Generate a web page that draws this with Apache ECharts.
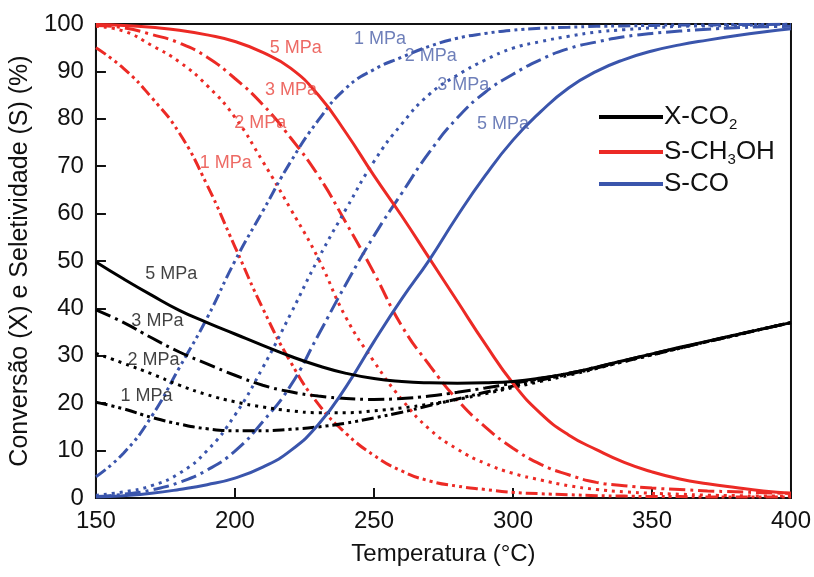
<!DOCTYPE html>
<html>
<head>
<meta charset="utf-8">
<script src="https://cdn.jsdelivr.net/npm/echarts@6/dist/echarts.min.js"></script>
<style>
html,body{margin:0;padding:0;background:#fff;}
#chart{width:814px;height:577px;}
</style>
</head>
<body>
<div id="chart"></div>
<script>
// ---- data ----
const temps = [150,160,170,180,190,200,210,220,230,240,250,260,270,280,290,300,310,320,330,340,350,360,370,380,390,400];

// X-CO2 conversion (%)
const xco2_5 = [49.8,46.2,42.8,39.6,37.0,34.6,32.2,29.9,27.9,26.3,25.2,24.6,24.3,24.2,24.3,24.6,25.3,26.3,27.6,29.0,30.4,31.8,33.1,34.4,35.7,37.0];
const xco2_3 = [39.7,37.0,33.8,30.8,28.3,25.9,23.8,22.4,21.5,21.0,20.8,21.0,21.5,22.3,23.2,24.2,25.2,26.3,27.6,29.0,30.4,31.7,33.0,34.4,35.7,37.0];
const xco2_2 = [30.5,28.4,26.2,23.8,21.8,20.3,19.2,18.4,18.0,18.0,18.4,19.0,19.8,20.8,22.0,23.3,24.6,25.9,27.3,28.8,30.2,31.6,33.0,34.3,35.7,37.0];
const xco2_1 = [20.2,18.8,17.0,15.6,14.6,14.2,14.2,14.5,15.0,15.8,16.9,18.1,19.5,20.9,22.3,23.6,24.9,26.1,27.4,28.8,30.2,31.6,33.0,34.3,35.7,37.0];

// S-CH3OH selectivity (%)
const sch3oh_5 = [99.9,99.7,99.3,98.7,97.7,96.3,94.0,90.7,85.0,77.0,68.0,59.5,50.5,41.5,32.5,24.2,17.8,13.3,10.2,7.5,5.5,4.0,3.0,2.2,1.5,1.0];
const sch3oh_3 = [99.7,99.2,97.8,96.0,93.0,88.5,83.0,76.0,68.0,58.0,47.5,36.3,28.0,20.7,15.0,10.5,7.1,4.9,3.3,2.6,2.1,1.8,1.5,1.3,1.1,1.0];
const sch3oh_2 = [99.5,98.5,95.5,92.0,87.0,80.3,71.0,61.0,50.5,38.0,28.8,20.8,14.5,10.3,7.3,5.2,3.8,2.6,1.8,1.3,1.0,0.8,0.6,0.5,0.4,0.4];
const sch3oh_1 = [95.0,90.6,84.5,77.0,66.0,53.0,40.0,28.7,19.8,13.6,9.0,5.7,3.6,2.5,1.8,1.2,0.9,0.7,0.5,0.4,0.3,0.3,0.2,0.2,0.2,0.2];

// S-CO selectivity (%)
const sco_5 = [0.2,0.5,1.0,1.8,2.8,4.2,6.5,10.0,15.5,23.5,33.0,42.0,50.3,59.5,68.0,75.5,81.5,86.5,90.0,92.5,94.3,95.6,96.6,97.5,98.3,99.0];
const sco_3 = [0.3,0.8,1.7,3.3,5.9,9.9,16.1,23.7,34.4,45.2,55.3,64.3,73.0,80.2,85.6,89.4,92.5,94.8,96.2,97.3,98.0,98.5,98.9,99.2,99.4,99.5];
const sco_2 = [0.6,1.3,2.6,5.2,10.0,17.5,27.5,38.8,50.5,61.0,71.0,78.9,85.2,89.2,92.4,94.9,96.3,97.4,98.3,98.8,99.2,99.5,99.6,99.7,99.8,99.9];
const sco_1 = [4.5,9.5,17.2,27.5,38.0,50.0,60.5,70.9,79.7,86.5,90.4,93.0,95.3,97.0,98.0,98.7,99.1,99.3,99.5,99.6,99.7,99.8,99.8,99.9,99.9,100.0];

// tick values / axis text
const xTicks = [150,200,250,300,350,400];
const yTicks = [0,10,20,30,40,50,60,70,80,90,100];
const xTitle = 'Temperatura (°C)';
const yTitle = 'Conversão (X) e Seletividade (S) (%)';
const legendNames = ['X-CO2','S-CH3OH','S-CO'];

// pressure annotations: [T, value, text]
const labelsRed   = [[221.9,94.9,'5 MPa'],[220.2,86.1,'3 MPa'],[209.1,79.1,'2 MPa'],[196.7,70.7,'1 MPa']];
const labelsBlue  = [[252.2,96.8,'1 MPa'],[270.4,93.2,'2 MPa'],[282.1,87.1,'3 MPa'],[296.4,78.9,'5 MPa']];
const labelsBlack = [[177.1,47.3,'5 MPa'],[172.1,37.3,'3 MPa'],[170.7,29.1,'2 MPa'],[168.2,21.5,'1 MPa']];

// ---- styles ----
const RED = '#ec2a25', BLUE = '#3a55ac', BLACK = '#000000';
const dash = {
  5: 'solid',
  3: [16, 5, 3, 5],
  2: [3, 5],
  1: [12, 4, 3, 4, 3, 4]
};
const FONT = 'Liberation Sans, Arial, Helvetica, sans-serif';

function pair(arr){ return temps.map((t,i)=>[t, arr[i]]); }
function lineSeries(name, arr, color, p){
  return {
    name: name, type: 'line', data: pair(arr), smooth: 0.5,
    showSymbol: false, symbol: 'none', silent: true, z: p === 5 ? 4 : 3,
    lineStyle: { color: color, width: 3, type: dash[p], cap: 'butt' },
    itemStyle: { color: color }
  };
}
function labelSeries(items, color){
  return {
    type: 'scatter', silent: true, symbolSize: 0, z: 6,
    data: items.map(d => ({ value: [d[0], d[1]], name: d[2] })),
    label: { show: true, position: 'inside', formatter: p => p.name,
      color: color, fontSize: 18, fontFamily: FONT }
  };
}

const series = [
  lineSeries('S-CH3OH', sch3oh_5, RED, 5),
  lineSeries('red3', sch3oh_3, RED, 3),
  lineSeries('red2', sch3oh_2, RED, 2),
  lineSeries('red1', sch3oh_1, RED, 1),
  lineSeries('S-CO', sco_5, BLUE, 5),
  lineSeries('blue3', sco_3, BLUE, 3),
  lineSeries('blue2', sco_2, BLUE, 2),
  lineSeries('blue1', sco_1, BLUE, 1),
  lineSeries('X-CO2', xco2_5, BLACK, 5),
  lineSeries('black3', xco2_3, BLACK, 3),
  lineSeries('black2', xco2_2, BLACK, 2),
  lineSeries('black1', xco2_1, BLACK, 1),
  labelSeries(labelsRed, '#e8453d'),
  labelSeries(labelsBlue, '#4a5fa8'),
  labelSeries(labelsBlack, '#111111')
];

const chart = echarts.init(document.getElementById('chart'), null, { renderer: 'canvas' });
chart.setOption({
  animation: false,
  backgroundColor: '#ffffff',
  grid: { left: 90, right: 22, top: 24, bottom: 79, show: true, borderColor: '#111', borderWidth: 2, backgroundColor: 'transparent' },
  xAxis: {
    type: 'value', min: xTicks[0], max: xTicks[xTicks.length-1], interval: 50,
    name: xTitle, nameLocation: 'middle', nameGap: 44,
    nameTextStyle: { fontSize: 24, fontFamily: FONT, color: '#111' },
    axisLine: { show: true, lineStyle: { color: '#111', width: 2 } },
    axisTick: { show: true, inside: true, length: 10, lineStyle: { color: '#111', width: 2 } },
    axisLabel: { fontSize: 24, fontFamily: FONT, color: '#111', margin: 11 },
    splitLine: { show: false }
  },
  yAxis: {
    type: 'value', min: yTicks[0], max: yTicks[yTicks.length-1], interval: 10,
    name: yTitle, nameLocation: 'middle', nameGap: 53,
    nameTextStyle: { fontSize: 25, fontFamily: FONT, color: '#111' },
    axisLine: { show: true, lineStyle: { color: '#111', width: 2 } },
    axisTick: { show: true, inside: true, length: 10, lineStyle: { color: '#111', width: 2 } },
    axisLabel: { fontSize: 24, fontFamily: FONT, color: '#111', margin: 12 },
    splitLine: { show: false }
  },
  legend: {
    data: legendNames, orient: 'vertical', left: 594, top: 96,
    icon: 'rect', itemWidth: 64, itemHeight: 4, itemGap: 4, selectedMode: false,
    formatter: function(n){
      if (n === 'X-CO2') return '{t|X-CO}{s|2}';
      if (n === 'S-CH3OH') return '{t|S-CH}{s|3}{t|OH}';
      return '{t|S-CO}';
    },
    textStyle: {
      color: '#111', fontFamily: FONT, padding: [0,0,0,-4],
      rich: {
        t: { fontSize: 26, fontFamily: FONT, color: '#111', lineHeight: 30 },
        s: { fontSize: 15, fontFamily: FONT, color: '#111', lineHeight: 30, padding: [16,0,0,0], verticalAlign: 'bottom' }
      }
    }
  },
  series: series
});
</script>
</body>
</html>
